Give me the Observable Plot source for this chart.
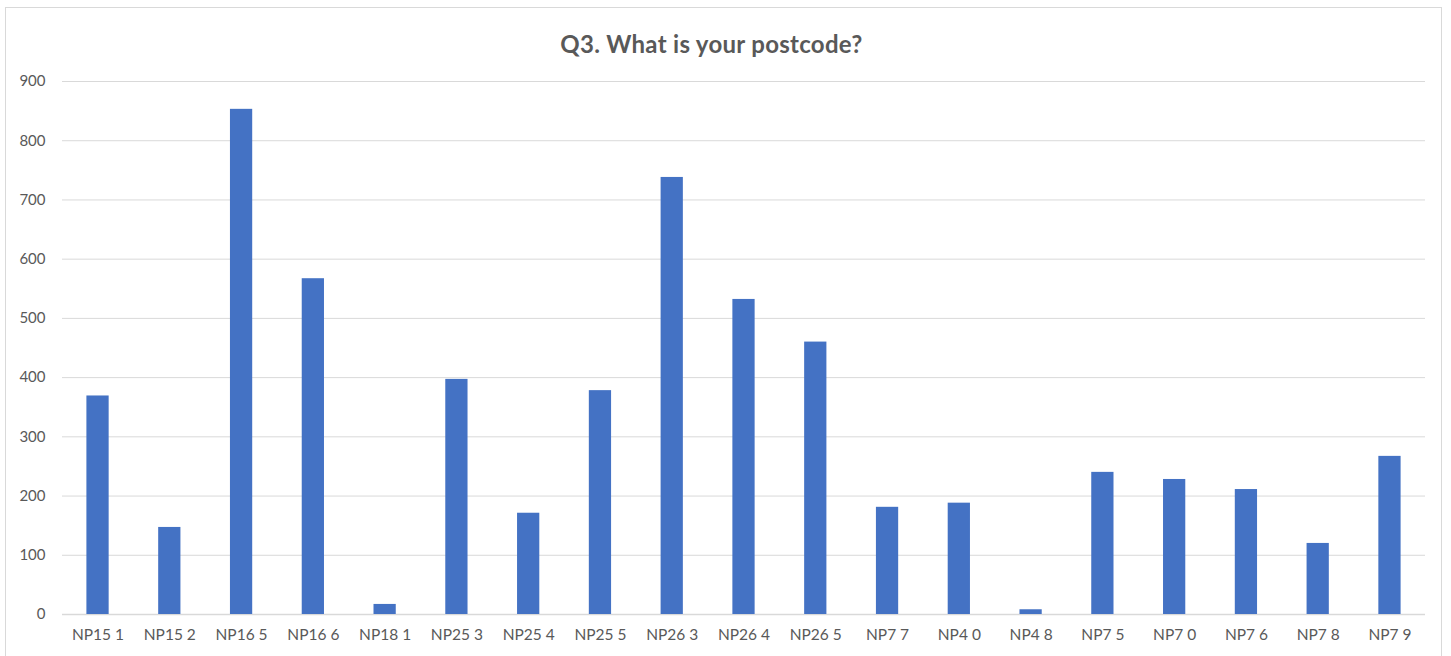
<!DOCTYPE html>
<html>
<head>
<meta charset="utf-8">
<script src="https://cdn.jsdelivr.net/npm/d3@7"></script>
<script src="https://cdn.jsdelivr.net/npm/@observablehq/plot@0.6"></script>
<style>
  html, body { margin: 0; padding: 0; background: #fff; width: 1451px; height: 656px; overflow: hidden; }
  #frame { position: absolute; left: 5px; top: 7px; width: 1437px; height: 680px; border: 1.5px solid #d9d9d9; box-sizing: border-box; pointer-events: none; }
  #title { height: 70px; line-height: 88px; text-align: center; font-family: Lato, "Open Sans", sans-serif; font-weight: bold; font-size: 24px; letter-spacing: 0.3px; color: #595959; padding-right: 28px; }
  #chart svg { display: block; }
</style>
</head>
<body>
<div id="frame"></div>
<div id="title">Q3. What is your postcode?</div>
<div id="chart"></div>
<script>
const categories = ["NP15 1","NP15 2","NP16 5","NP16 6","NP18 1","NP25 3","NP25 4","NP25 5","NP26 3","NP26 4","NP26 5","NP7 7","NP4 0","NP4 8","NP7 5","NP7 0","NP7 6","NP7 8","NP7 9"];
const counts = [369, 147, 853, 567, 17, 397, 171, 378, 738, 532, 460, 181, 188, 8, 240, 228, 211, 120, 267];
const yTicks = [0, 100, 200, 300, 400, 500, 600, 700, 800, 900];

const data = categories.map((c, i) => ({postcode: c, count: counts[i]}));

const chart = Plot.plot({
  width: 1451,
  height: 586,
  marginTop: 11,
  marginBottom: 42,
  marginLeft: 62,
  marginRight: 26,
  style: { fontFamily: "Lato, 'Open Sans', sans-serif", fontSize: "15px", color: "#595959", background: "#fff" },
  x: { type: "band", domain: categories, paddingInner: 0.69, paddingOuter: 0.34, round: false, label: null },
  y: { domain: [0, 900], label: null },
  marks: [
    Plot.gridY(yTicks, { stroke: "#d9d9d9", strokeOpacity: 1, strokeWidth: 1 }),
    Plot.ruleY([0], { stroke: "#d9d9d9", strokeWidth: 1.5 }),
    Plot.barY(data, { x: "postcode", y: "count", fill: "#4472C4" }),
    Plot.axisY(yTicks, { tickSize: 0, tickPadding: 17, label: null, fill: "#595959", fontSize: 15 }),
    Plot.axisX({ tickSize: 0, tickPadding: 14, label: null, fill: "#595959", fontSize: 15.5 })
  ]
});
document.getElementById("chart").appendChild(chart);
</script>
</body>
</html>
